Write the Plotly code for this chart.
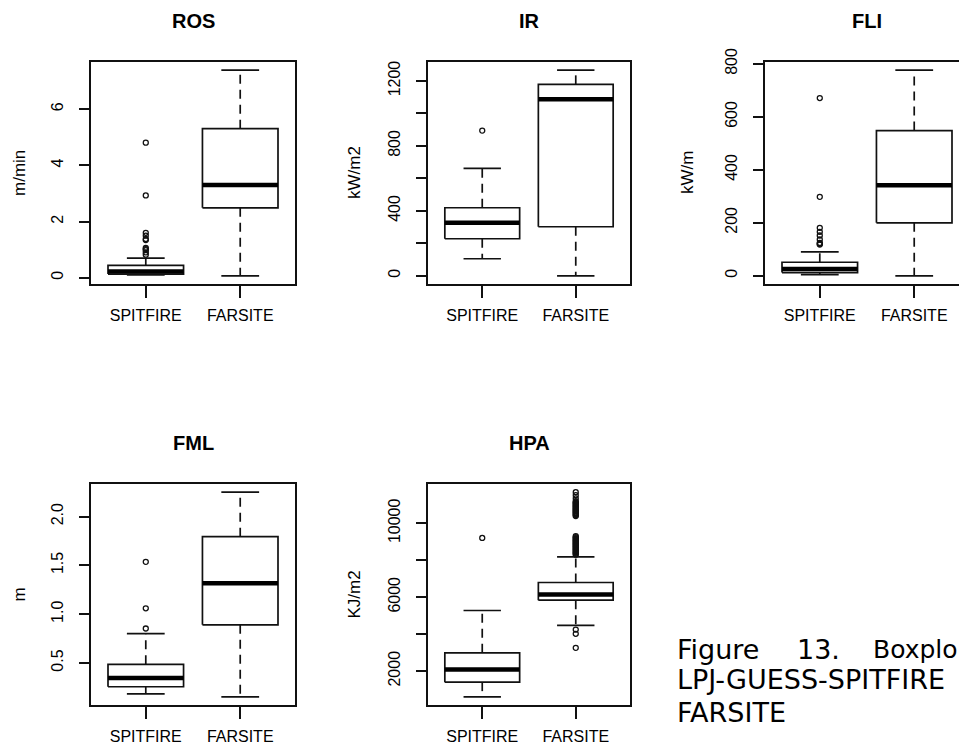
import plotly.graph_objects as go

# ---------------- data ----------------
groups = ["SPITFIRE", "FARSITE"]

ros_lower = [0.10, 0.07]
ros_q1 = [0.13, 2.49]
ros_median = [0.22, 3.30]
ros_q3 = [0.44, 5.31]
ros_upper = [0.70, 7.39]
ros_out_spitfire = [4.81, 2.93, 1.60, 1.50, 1.38, 1.34, 1.06, 1.02, 0.98, 0.90, 0.82]
ros_out_farsite = []
ros_ticks = [0, 2, 4, 6]
ros_ticklabels = ["0", "2", "4", "6"]

ir_lower = [105, 0]
ir_q1 = [228, 302]
ir_median = [327, 1087]
ir_q3 = [419, 1179]
ir_upper = [661, 1266]
ir_out_spitfire = [894]
ir_out_farsite = []
ir_ticks = [0, 200, 400, 600, 800, 1000, 1200]
ir_ticklabels = ["0", "", "400", "", "800", "", "1200"]

fli_lower = [4, 0]
fli_q1 = [12, 200]
fli_median = [26, 342]
fli_q3 = [51, 548]
fli_upper = [90, 776]
fli_out_spitfire = [671, 298, 181, 166, 152, 137, 124, 121, 118]
fli_out_farsite = []
fli_ticks = [0, 200, 400, 600, 800]
fli_ticklabels = ["0", "200", "400", "600", "800"]

fml_lower = [0.184, 0.153]
fml_q1 = [0.256, 0.891]
fml_median = [0.345, 1.317]
fml_q3 = [0.486, 1.794]
fml_upper = [0.80, 2.25]
fml_out_spitfire = [1.536, 1.06, 0.853]
fml_out_farsite = []
fml_ticks = [0.5, 1.0, 1.5, 2.0]
fml_ticklabels = ["0.5", "1.0", "1.5", "2.0"]

hpa_lower = [611, 4470]
hpa_q1 = [1405, 5838]
hpa_median = [2092, 6146]
hpa_q3 = [2989, 6795]
hpa_upper = [5281, 8178]
hpa_out_spitfire = [9205]
hpa_out_farsite = [
    11680, 11520, 11350, 11190, 11140, 11090, 11040, 10990, 10940, 10890,
    10840, 10790, 10740, 10690, 10640, 10590, 10540, 10490, 10440, 10390,
    9300, 9250, 9200, 9150, 9100, 9050, 9000, 8950, 8900, 8850, 8800,
    8750, 8700, 8650, 8600, 8550, 8500, 8450, 8400, 8350, 8300,
    4250, 4020, 3260,
]
hpa_ticks = [2000, 4000, 6000, 8000, 10000]
hpa_ticklabels = ["2000", "", "6000", "", "10000"]

caption_line1 = ["Figure", "13.", "Boxplo"]
caption_line2 = "LPJ-GUESS-SPITFIRE"
caption_line3 = "FARSITE"

# ---------------- layout helpers ----------------
W, H = 959, 749
INK = "#111111"
TICKFONT = dict(family="Liberation Sans, Arial, sans-serif", size=16, color="#000000")

panels = [
    dict(title="ROS", unit="m/min", lo=ros_lower, q1=ros_q1, med=ros_median, q3=ros_q3, hi=ros_upper,
         outs=[ros_out_spitfire, ros_out_farsite], ticks=ros_ticks, labels=ros_ticklabels,
         rect=(91, 295, 62, 284), ytitle_x=19, clip_right=None),
    dict(title="IR", unit="kW/m2", lo=ir_lower, q1=ir_q1, med=ir_median, q3=ir_q3, hi=ir_upper,
         outs=[ir_out_spitfire, ir_out_farsite], ticks=ir_ticks, labels=ir_ticklabels,
         rect=(428, 630, 62, 284), ytitle_x=354, clip_right=None),
    dict(title="FLI", unit="kW/m", lo=fli_lower, q1=fli_q1, med=fli_median, q3=fli_q3, hi=fli_upper,
         outs=[fli_out_spitfire, fli_out_farsite], ticks=fli_ticks, labels=fli_ticklabels,
         rect=(765, 969, 62, 284), ytitle_x=687, clip_right=959),
    dict(title="FML", unit="m", lo=fml_lower, q1=fml_q1, med=fml_median, q3=fml_q3, hi=fml_upper,
         outs=[fml_out_spitfire, fml_out_farsite], ticks=fml_ticks, labels=fml_ticklabels,
         rect=(91, 295, 484, 705), ytitle_x=19, clip_right=None),
    dict(title="HPA", unit="KJ/m2", lo=hpa_lower, q1=hpa_q1, med=hpa_median, q3=hpa_q3, hi=hpa_upper,
         outs=[hpa_out_spitfire, hpa_out_farsite], ticks=hpa_ticks, labels=hpa_ticklabels,
         rect=(428, 630, 484, 705), ytitle_x=354, clip_right=None),
]

fig = go.Figure()
annotations = []
BOX_HALF = 0.4
STAPLE_HALF = 0.2
XR = (-0.58, 1.58)

for k, p in enumerate(panels, start=1):
    xa = "x" if k == 1 else f"x{k}"
    ya = "y" if k == 1 else f"y{k}"
    xkey = "xaxis" if k == 1 else f"xaxis{k}"
    ykey = "yaxis" if k == 1 else f"yaxis{k}"
    l, r, t, b = p["rect"]

    # R-style y range: data range extended by 4 % on each side
    allvals = p["lo"] + p["hi"] + [v for o in p["outs"] for v in o]
    dmin, dmax = min(allvals), max(allvals)
    pad = (dmax - dmin) * 0.04
    yr = [dmin - pad, dmax + pad]

    xr = list(XR)
    right_px = r
    if p["clip_right"] is not None:
        right_px = p["clip_right"]
        xr[1] = XR[0] + (XR[1] - XR[0]) * (right_px - l) / (r - l)

    for i in range(len(groups)):
        # box
        fig.add_trace(go.Scatter(
            x=[i - BOX_HALF, i + BOX_HALF, i + BOX_HALF, i - BOX_HALF, i - BOX_HALF],
            y=[p["q1"][i], p["q1"][i], p["q3"][i], p["q3"][i], p["q1"][i]],
            mode="lines", line=dict(color=INK, width=1.7), fill="toself", fillcolor="white",
            xaxis=xa, yaxis=ya, showlegend=False, hoverinfo="skip"))
        # whiskers (dashed)
        fig.add_trace(go.Scatter(
            x=[i, i, None, i, i],
            y=[p["q3"][i], p["hi"][i], None, p["q1"][i], p["lo"][i]],
            mode="lines", line=dict(color=INK, width=1.7, dash="9px,6px"),
            xaxis=xa, yaxis=ya, showlegend=False, hoverinfo="skip"))
        # staples
        fig.add_trace(go.Scatter(
            x=[i - STAPLE_HALF, i + STAPLE_HALF, None, i - STAPLE_HALF, i + STAPLE_HALF],
            y=[p["hi"][i], p["hi"][i], None, p["lo"][i], p["lo"][i]],
            mode="lines", line=dict(color=INK, width=1.7),
            xaxis=xa, yaxis=ya, showlegend=False, hoverinfo="skip"))
        # median
        fig.add_trace(go.Scatter(
            x=[i - BOX_HALF, i + BOX_HALF],
            y=[p["med"][i], p["med"][i]],
            mode="lines", line=dict(color="#000000", width=4.5),
            xaxis=xa, yaxis=ya, showlegend=False, hoverinfo="skip"))
        # outliers
        if p["outs"][i]:
            fig.add_trace(go.Scatter(
                x=[i] * len(p["outs"][i]), y=p["outs"][i], mode="markers",
                marker=dict(symbol="circle-open", size=5, color=INK, line=dict(width=1.3)),
                xaxis=xa, yaxis=ya, showlegend=False, hoverinfo="skip"))

    fig.layout[xkey] = dict(
        domain=[l / W, min(right_px / W, 1.0)], range=xr, anchor=ya, automargin=False,
        tickmode="array", tickvals=[0, 1], ticktext=groups,
        showline=True, mirror=True, linecolor=INK, linewidth=1.7,
        ticks="outside", ticklen=12, tickwidth=1.7, tickcolor=INK,
        tickfont=TICKFONT, ticklabelstandoff=4,
        showgrid=False, zeroline=False, fixedrange=True)
    fig.layout[ykey] = dict(
        domain=[1 - b / H, 1 - t / H], range=yr, anchor=xa, automargin=False,
        tickmode="array", tickvals=p["ticks"], ticktext=p["labels"], tickangle=-90,
        showline=True, mirror=(p["clip_right"] is None), linecolor=INK, linewidth=1.7,
        ticks="outside", ticklen=10, tickwidth=1.7, tickcolor=INK,
        tickfont=TICKFONT, ticklabelstandoff=10,
        showgrid=False, zeroline=False, fixedrange=True)

    # panel title
    annotations.append(dict(
        text=f"<b>{p['title']}</b>", x=(l + r) / 2 / W, y=1 - (t - 41) / H,
        xref="paper", yref="paper", xanchor="center", yanchor="middle", showarrow=False,
        font=dict(family="Liberation Sans, Arial, sans-serif", size=20, color="#000000")))
    # y-axis title
    annotations.append(dict(
        text=p["unit"], x=p["ytitle_x"] / W, y=1 - (t + b) / 2 / H, textangle=-90,
        xref="paper", yref="paper", xanchor="center", yanchor="middle", showarrow=False,
        font=dict(family="Liberation Sans, Arial, sans-serif", size=17, color="#000000")))

CAPFONT = dict(family="DejaVu Sans, Verdana, sans-serif", size=27, color="#000000")
for word, xpx, fs in zip(caption_line1, [675, 795, 871], [27, 27, 25]):
    annotations.append(dict(text=word, x=xpx / W, y=1 - 649 / H, xref="paper", yref="paper",
                            xanchor="left", yanchor="middle", showarrow=False,
                            font=dict(CAPFONT, size=fs)))
annotations.append(dict(text=caption_line2, x=675 / W, y=1 - 679 / H, xref="paper", yref="paper",
                        xanchor="left", yanchor="middle", showarrow=False, font=CAPFONT))
annotations.append(dict(text=caption_line3, x=675 / W, y=1 - 712 / H, xref="paper", yref="paper",
                        xanchor="left", yanchor="middle", showarrow=False, font=CAPFONT))

fig.update_layout(
    width=W, height=H, margin=dict(l=0, r=0, t=0, b=0, autoexpand=False),
    paper_bgcolor="white", plot_bgcolor="white",
    annotations=annotations, showlegend=False)

fig.write_html(
    "out.html",
    config={"displayModeBar": False},
    post_script="document.body.style.margin='0px';document.body.style.overflow='hidden';",
)
